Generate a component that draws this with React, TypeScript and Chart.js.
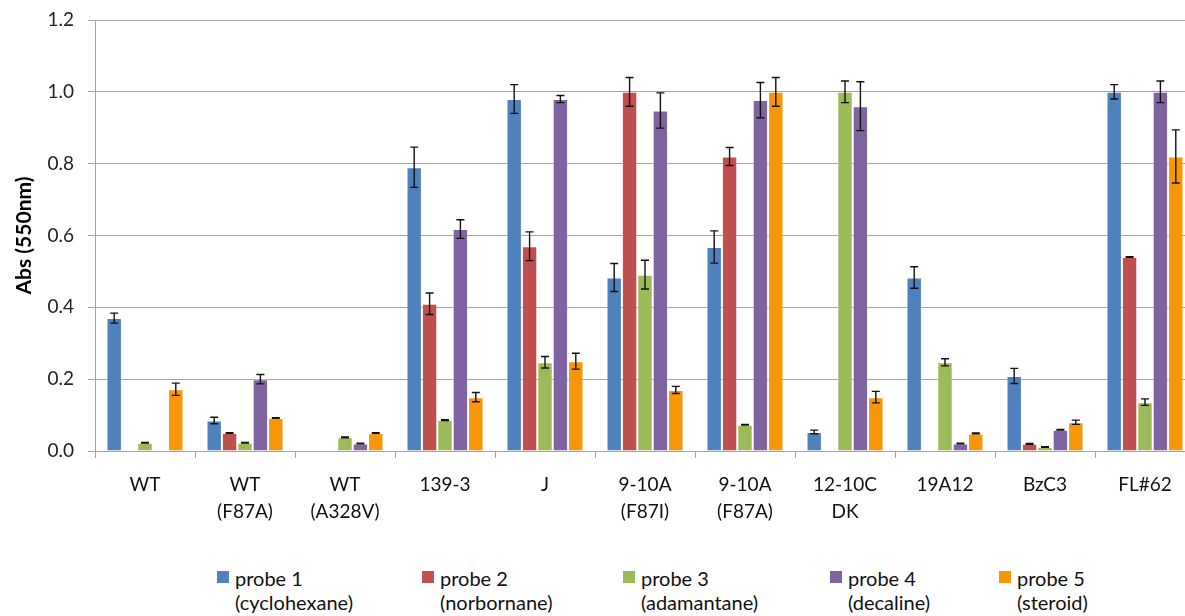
import React, { useEffect, useRef } from "react";
import { Chart, registerables } from "chart.js";

Chart.register(...registerables);

const categories: string[][] = [
  ["WT"],
  ["WT", "(F87A)"],
  ["WT", "(A328V)"],
  ["139-3"],
  ["J"],
  ["9-10A", "(F87I)"],
  ["9-10A", "(F87A)"],
  ["12-10C", "DK"],
  ["19A12"],
  ["BzC3"],
  ["FL#62"],
];

const seriesNames = ["probe 1", "probe 2", "probe 3", "probe 4", "probe 5"];
const seriesSub = ["(cyclohexane)", "(norbornane)", "(adamantane)", "(decaline)", "(steroid)"];
const seriesColors = ["#4F81BD", "#C0504D", "#9BBB59", "#8064A2", "#F79608"];

const probe1 = [0.37, 0.085, null, 0.79, 0.98, 0.483, 0.568, 0.053, 0.483, 0.209, 1.0];
const probe2 = [null, 0.05, null, 0.41, 0.57, 1.0, 0.82, null, null, 0.02, 0.54];
const probe3 = [0.023, 0.023, 0.038, 0.086, 0.247, 0.491, 0.073, 1.0, 0.247, 0.011, 0.136];
const probe4 = [null, 0.2, 0.021, 0.618, 0.98, 0.948, 0.977, 0.96, 0.021, 0.059, 1.0];
const probe5 = [0.172, 0.092, 0.05, 0.15, 0.25, 0.17, 1.0, 0.15, 0.049, 0.08, 0.82];

const err1 = [0.014, 0.009, null, 0.056, 0.04, 0.039, 0.045, 0.005, 0.03, 0.021, 0.02];
const err2 = [null, 0.001, null, 0.03, 0.04, 0.04, 0.025, null, null, 0.001, 0.001];
const err3 = [0.001, 0.001, 0.001, 0.001, 0.016, 0.04, 0.001, 0.03, 0.01, 0.001, 0.009];
const err4 = [null, 0.013, 0.001, 0.026, 0.01, 0.049, 0.049, 0.068, 0.001, 0.001, 0.03];
const err5 = [0.017, 0.001, 0.001, 0.013, 0.022, 0.01, 0.04, 0.016, 0.001, 0.006, 0.074];

const yMin = 0;
const yMax = 1.2;
const yStep = 0.2;

const seriesValues = [probe1, probe2, probe3, probe4, probe5];
const seriesErrors = [err1, err2, err3, err4, err5];

const FONT = "Lato, 'Open Sans', sans-serif";
const GRID = "#a3a3a3";

const errorBarPlugin = {
  id: "errorBars",
  afterDatasetsDraw(chart: any) {
    const ctx = chart.ctx;
    const yScale = chart.scales.y;
    ctx.save();
    ctx.strokeStyle = "#111";
    ctx.lineWidth = 1.4;
    chart.data.datasets.forEach((ds: any, di: number) => {
      const meta = chart.getDatasetMeta(di);
      const errs = seriesErrors[di];
      meta.data.forEach((bar: any, i: number) => {
        const v = ds.data[i];
        const e = errs[i];
        if (v == null || e == null) return;
        const x = bar.x;
        const yTop = yScale.getPixelForValue(v + e);
        const yBot = yScale.getPixelForValue(v - e);
        const cap = 4;
        ctx.beginPath();
        ctx.moveTo(x, yTop);
        ctx.lineTo(x, yBot);
        ctx.moveTo(x - cap, yTop);
        ctx.lineTo(x + cap, yTop);
        ctx.moveTo(x - cap, yBot);
        ctx.lineTo(x + cap, yBot);
        ctx.stroke();
      });
    });
    ctx.restore();
  },
};

export default function App() {
  const canvasRef = useRef<HTMLCanvasElement | null>(null);

  useEffect(() => {
    if (!canvasRef.current) return;
    const chart = new Chart(canvasRef.current, {
      type: "bar",
      data: {
        labels: categories,
        datasets: seriesNames.map((name, i) => ({
          label: name,
          data: seriesValues[i],
          backgroundColor: seriesColors[i],
          borderColor: "rgba(255,255,255,0.35)",
          borderWidth: 1,
          borderSkipped: "bottom",
          barPercentage: 1,
          categoryPercentage: 0.77,
        })),
      },
      options: {
        animation: false,
        responsive: false,
        maintainAspectRatio: false,
        layout: { padding: { top: 20, left: 0, right: 5, bottom: 0 } },
        plugins: {
          legend: { display: false },
          tooltip: { enabled: false },
        },
        scales: {
          x: {
            offset: true,
            grid: {
              display: true,
              offset: true,
              drawOnChartArea: false,
              drawTicks: true,
              tickLength: 7,
              color: GRID,
            },
            border: { display: true, color: GRID, width: 1 },
            ticks: {
              color: "#111",
              font: { family: FONT, size: 19, lineHeight: 1.42 },
              padding: 13,
              maxRotation: 0,
              autoSkip: false,
            },
            afterFit: (scale: any) => {
              scale.height = 89;
            },
          },
          y: {
            min: yMin,
            max: yMax,
            grid: {
              color: GRID,
              lineWidth: 1,
              drawTicks: true,
              tickLength: 7,
            },
            border: { display: true, color: GRID, width: 1 },
            ticks: {
              stepSize: yStep,
              color: "#222",
              padding: 14,
              font: { family: FONT, size: 19 },
              callback: (v: any) => Number(v).toFixed(1),
            },
            title: {
              display: true,
              text: "Abs (550nm)",
              color: "#000",
              font: { family: FONT, size: 21, weight: "bold" },
              padding: { top: 12, bottom: 0 },
            },
            afterFit: (scale: any) => {
              scale.width = 95;
              scale.paddingTop = 0;
              scale.paddingBottom = 0;
            },
          },
        },
      },
      plugins: [errorBarPlugin],
    });
    return () => chart.destroy();
  }, []);

  const legendSquareX = [217, 422, 623, 830, 999];

  return (
    <div
      style={{
        position: "fixed",
        left: 0,
        top: 0,
        width: 1185,
        height: 616,
        overflow: "hidden",
        background: "#fff",
      }}
    >
      <canvas
        ref={canvasRef}
        width={1200}
        height={540}
        style={{ position: "absolute", left: 0, top: 0, width: 1200, height: 540 }}
      />
      {seriesNames.map((name, i) => (
        <div
          key={name}
          style={{
            position: "absolute",
            left: legendSquareX[i],
            top: 566,
            fontFamily: FONT,
            fontSize: 20,
            lineHeight: "24px",
            color: "#111",
            whiteSpace: "nowrap",
          }}
        >
          <span
            style={{
              position: "absolute",
              left: 0,
              top: 5,
              width: 12,
              height: 12,
              background: seriesColors[i],
            }}
          />
          <div style={{ marginLeft: 18 }}>{name}</div>
          <div style={{ marginLeft: 18 }}>{seriesSub[i]}</div>
        </div>
      ))}
    </div>
  );
}
